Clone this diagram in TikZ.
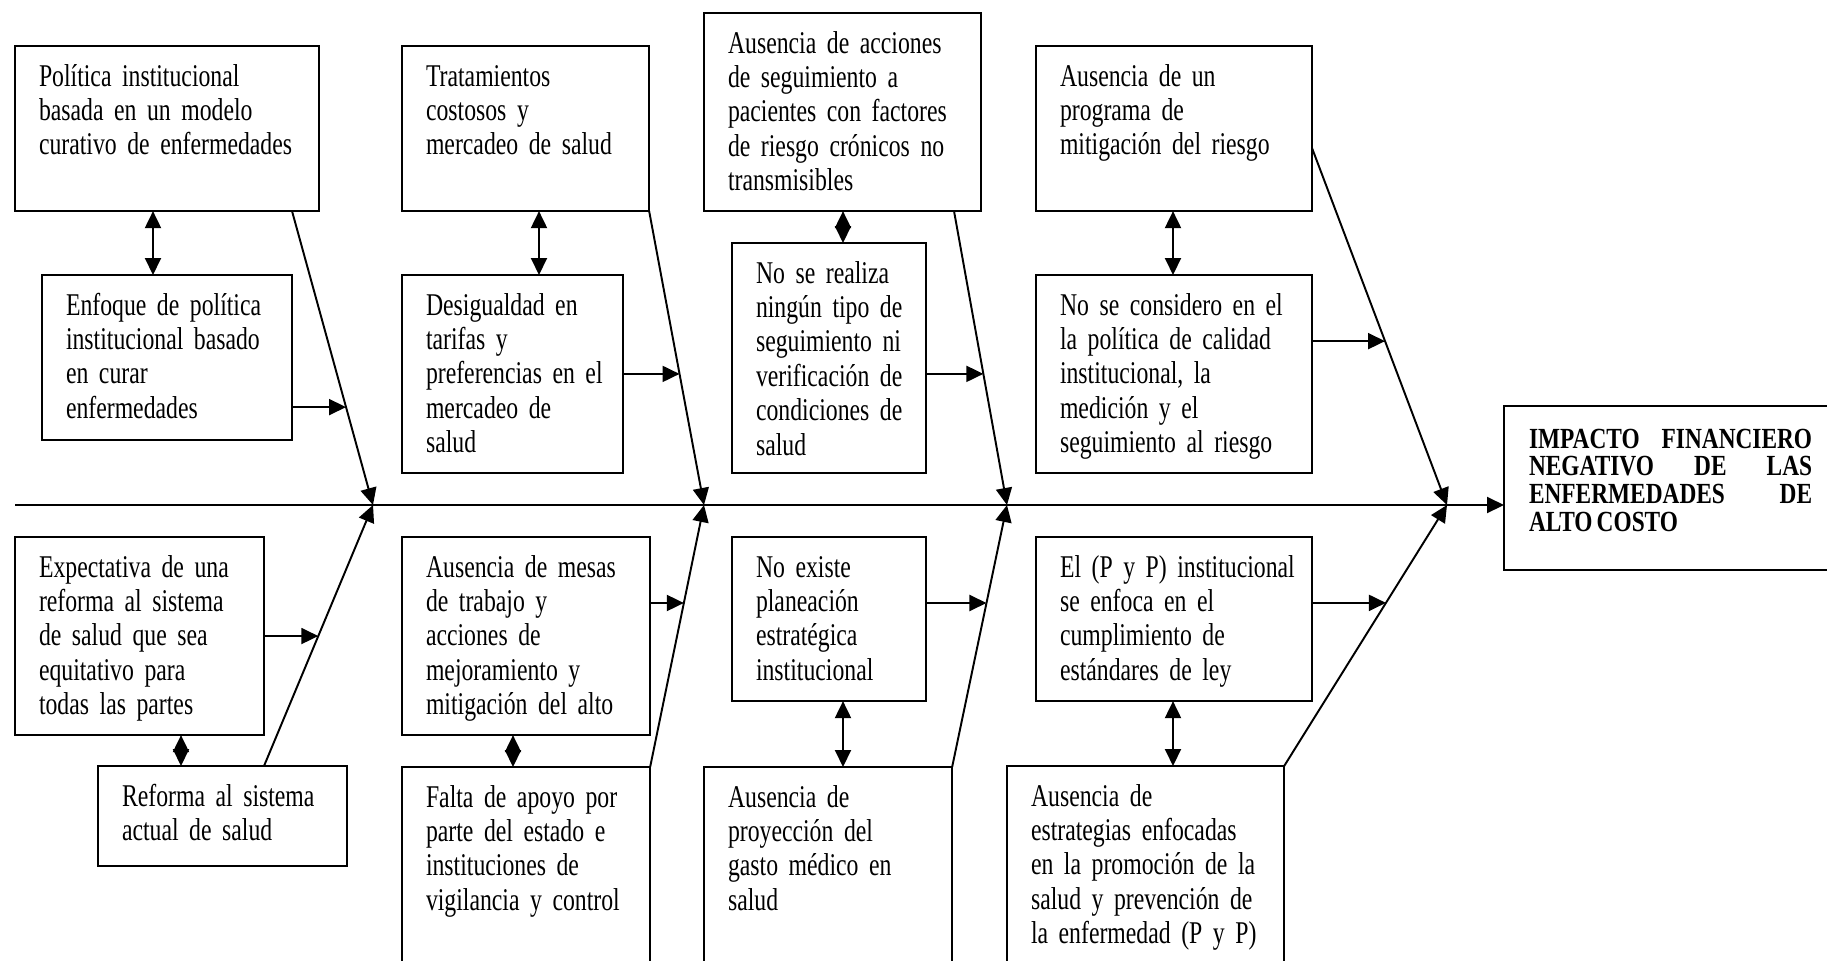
\documentclass[tikz,border=0pt]{standalone}
\usepackage{fontspec}
\setmainfont{Liberation Serif}[FakeStretch=0.75, WordSpace=0.55]
\newfontfamily\negrita{Liberation Serif}[FakeStretch=0.8, WordSpace=0.7]
\usetikzlibrary{arrows.meta,calc}
\tikzset{
  caja/.style={draw, anchor=north west, align=left, inner xsep=2.4mm, inner ysep=0pt,
    outer sep=0pt, text height=4mm, font=\fontsize{9}{9.8}\selectfont,
    execute at begin node={\rightskip=-2mm plus 1fil}},
  efecto/.style={draw, anchor=north west, align=justify, inner xsep=2.5mm, inner ysep=0pt,
    outer sep=0pt, text width=28.3mm, text height=4.2mm, text depth=12.2mm,
    font=\negrita\bfseries\fontsize{8.3}{7.9}\selectfont},
  punta/.tip={Triangle[length=1.7mm,width=1.6mm]},
  flecha/.style={-punta},
  doble/.style={punta-punta}
}

\begin{document}
\begin{tikzpicture}[x=0.01cm, y=-0.01cm, line width=0.55pt]
\useasboundingbox (0,0) rectangle (1827,960);
\clip (0,0) rectangle (1827,960);

% causas de arriba
\node[caja, text width=25.6mm, text depth=12.5mm] (A1) at (15,46)
  {Política institucional\\ basada en un modelo\\ curativo de enfermedades};
\node[caja, text width=19.9mm, text depth=12.5mm] (A2) at (402,46)
  {Tratamientos\\ costosos y\\ mercadeo de salud};
\node[caja, text width=22.9mm, text depth=15.8mm] (A3) at (704,13)
  {Ausencia de acciones\\ de seguimiento a\\ pacientes con factores\\ de riesgo crónicos no\\ transmisibles};
\node[caja, text width=22.8mm, text depth=12.5mm] (A4) at (1036,46)
  {Ausencia de un\\ programa de\\ mitigación del riesgo};

\node[caja, text width=20.2mm, text depth=12.5mm] (B1) at (42,275)
  {Enfoque de política\\ institucional basado\\ en curar\\ enfermedades};
\node[caja, text width=17.3mm, text depth=15.8mm] (B2) at (402,275)
  {Desigualdad en\\ tarifas y\\ preferencias en el\\ mercadeo de\\ salud};
\node[caja, text width=14.6mm, text depth=19.0mm] (B3) at (732,243)
  {No se realiza\\ ningún tipo de\\ seguimiento ni\\ verificación de\\ condiciones de\\ salud};
\node[caja, text width=22.8mm, text depth=15.8mm] (B4) at (1036,275)
  {No se considero en el\\ la política de calidad\\ institucional, la\\ medición y el\\ seguimiento al riesgo};

% causas de abajo
\node[caja, text width=20.1mm, text depth=15.8mm] (C1) at (15,537)
  {Expectativa de una\\ reforma al sistema\\ de salud que sea\\ equitativo para\\ todas las partes};
\node[caja, text width=20.0mm, text depth=15.8mm] (C2) at (402,537)
  {Ausencia de mesas\\ de trabajo y\\ acciones de\\ mejoramiento y\\ mitigación del alto};
\node[caja, text width=14.6mm, text depth=12.4mm] (C3) at (732,537)
  {No existe\\ planeación\\ estratégica\\ institucional};
\node[caja, text width=22.8mm, text depth=12.4mm] (C4) at (1036,537)
  {El (P y P) institucional\\ se enfoca en el\\ cumplimiento de\\ estándares de ley};

\node[caja, text width=20.1mm, text depth=6.0mm] (D1) at (98,766)
  {Reforma al sistema\\ actual de salud};
\node[caja, text width=20.0mm, text depth=19.3mm] (D2) at (402,767)
  {Falta de apoyo por\\ parte del estado e\\ instituciones de\\ vigilancia y control};
\node[caja, text width=20.0mm, text depth=19.3mm] (D3) at (704,767)
  {Ausencia de\\ proyección del\\ gasto médico en\\ salud};
\node[caja, text width=22.9mm, text depth=19.3mm] (D4) at (1007,766)
  {Ausencia de\\ estrategias enfocadas\\ en la promoción de la\\ salud y prevención de\\ la enfermedad (P y P)};

% efecto
\node[efecto] (E) at (1504,406)
  {IMPACTO FINANCIERO\linebreak NEGATIVO DE LAS\linebreak ENFERMEDADES DE\linebreak ALTO COSTO};

% espina central
\coordinate (inicio) at (15,505);
\coordinate (J1) at (373,505);
\coordinate (J2) at (704,505);
\coordinate (J3) at (1007,505);
\coordinate (J4) at (1447,505);
\draw[flecha] (inicio) -- (inicio -| E.west);

% espinas de arriba
\coordinate (s1) at (292,211);
\coordinate (s2) at (A2.south east);
\coordinate (s3) at (954,211);
\coordinate (s4) at (1312,148);
\draw[flecha] (s1) -- (J1);
\draw[flecha] (s2) -- (J2);
\draw[flecha] (s3) -- (J3);
\draw[flecha] (s4) -- (J4);

% espinas de abajo
\coordinate (t1) at (264,766);
\coordinate (t2) at (D2.north east);
\coordinate (t3) at (D3.north east);
\coordinate (t4) at (D4.north east);
\draw[flecha] (t1) -- (J1);
\draw[flecha] (t2) -- (J2);
\draw[flecha] (t3) -- (J3);
\draw[flecha] (t4) -- (J4);

% flechas hacia las espinas
\coordinate (p1) at ($(s1)!0.667!(J1)$);
\coordinate (p2) at ($(s2)!0.554!(J2)$);
\coordinate (p3) at ($(s3)!0.554!(J3)$);
\coordinate (p4) at ($(s4)!0.541!(J4)$);
\draw[flecha] (B1.east |- p1) -- (p1);
\draw[flecha] (B2.east |- p2) -- (p2);
\draw[flecha] (B3.east |- p3) -- (p3);
\draw[flecha] (B4.east |- p4) -- (p4);

\coordinate (q1) at ($(t1)!0.498!(J1)$);
\coordinate (q2) at ($(t2)!0.626!(J2)$);
\coordinate (q3) at ($(t3)!0.626!(J3)$);
\coordinate (q4) at ($(t4)!0.625!(J4)$);
\draw[flecha] (C1.east |- q1) -- (q1);
\draw[flecha] (C2.east |- q2) -- (q2);
\draw[flecha] (C3.east |- q3) -- (q3);
\draw[flecha] (C4.east |- q4) -- (q4);

% relaciones entre causas
\draw[doble] (A1.south -| 153,0) -- (B1.north -| 153,0);
\draw[doble] (A2.south -| 539,0) -- (B2.north -| 539,0);
\draw[doble] (A3.south -| 843,0) -- (B3.north -| 843,0);
\draw[doble] (A4.south -| 1173,0) -- (B4.north -| 1173,0);
\draw[doble] (C1.south -| 181,0) -- (D1.north -| 181,0);
\draw[doble] (C2.south -| 513,0) -- (D2.north -| 513,0);
\draw[doble] (C3.south -| 843,0) -- (D3.north -| 843,0);
\draw[doble] (C4.south -| 1173,0) -- (D4.north -| 1173,0);
\end{tikzpicture}
\end{document}
